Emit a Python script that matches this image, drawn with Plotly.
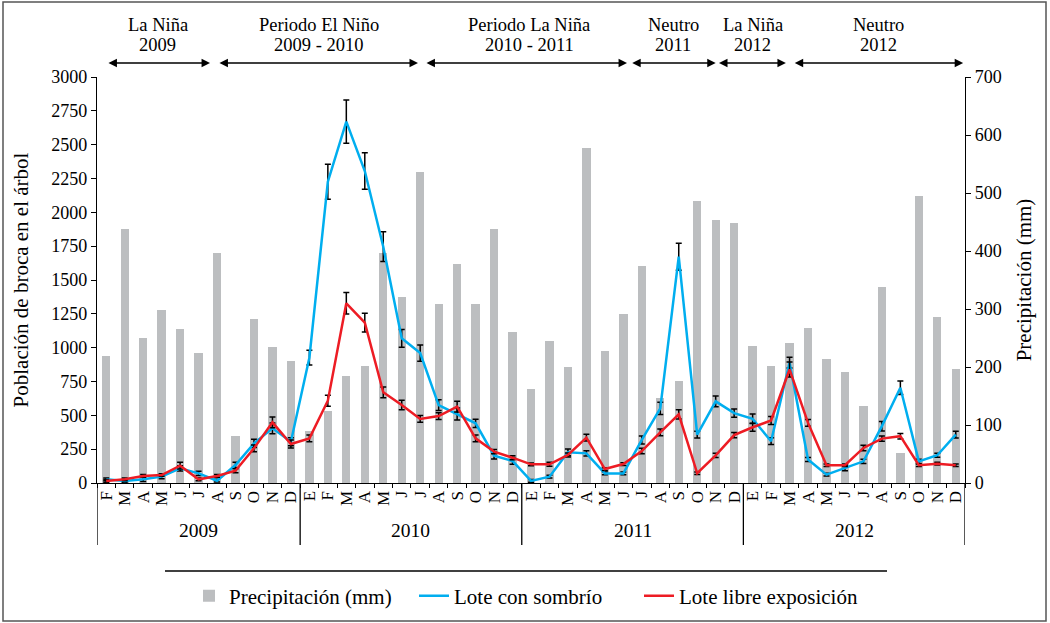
import plotly.graph_objects as go

# Month initials, Feb 2009 - Dec 2012
months = (["F", "M", "A", "M", "J", "J", "A", "S", "O", "N", "D"]
          + ["E", "F", "M", "A", "M", "J", "J", "A", "S", "O", "N", "D"] * 3)
years = ["2009", "2010", "2011", "2012"]
year_len = [11, 12, 12, 12]

# Monthly rainfall (mm)
precip = [219, 438, 250, 298, 266, 224, 397, 81, 283, 234, 210,
          90, 124, 184, 202, 397, 321, 536, 309, 378, 309, 438, 260,
          162, 245, 200, 578, 228, 291, 374, 147, 176, 487, 454, 449,
          236, 201, 241, 268, 213, 192, 132, 338, 52, 495, 287, 196]

# Berry borer population per tree - shaded lot
shade = [27, 15, 27, 47, 108, 71, 17, 133, 293, 404, 305,
         926, 2226, 2670, 2305, 1746, 1069, 960, 576, 510, 441, 202, 163,
         15, 47, 227, 219, 71, 71, 318, 552, 1672, 357, 603, 516,
         474, 309, 889, 173, 62, 111, 160, 420, 704, 160, 205, 358]
shade_err = [10, 10, 15, 15, 20, 15, 10, 20, 30, 40, 30,
             55, 130, 160, 135, 110, 65, 60, 40, 45, 30, 25, 25,
             10, 10, 25, 20, 10, 10, 30, 45, 100, 25, 40, 30,
             35, 25, 40, 15, 10, 20, 15, 35, 50, 15, 15, 25]

# Berry borer population per tree - full-sun lot
sun = [15, 27, 52, 59, 128, 27, 52, 91, 256, 448, 288,
       330, 608, 1328, 1185, 670, 576, 473, 495, 564, 330, 232, 187,
       138, 138, 207, 335, 103, 140, 236, 374, 507, 72, 204, 354,
       412, 462, 839, 444, 131, 131, 259, 328, 346, 131, 143, 131]
sun_err = [10, 10, 10, 10, 25, 10, 10, 15, 25, 40, 30,
           25, 40, 80, 70, 40, 35, 25, 25, 40, 25, 15, 15,
           10, 15, 15, 25, 10, 10, 20, 25, 35, 10, 15, 20,
           30, 30, 55, 25, 10, 10, 20, 20, 20, 10, 10, 10]

# ENSO periods: (label line 1, label line 2, arrow start, arrow end, text centre)
periods = [("La Niña", "2009", 0.04, 5.62, 2.8),
           ("Periodo El Niño", "2009 - 2010", 6.05, 16.88, 11.5),
           ("Periodo La Niña", "2010 - 2011", 17.26, 28.2, 22.9),
           ("Neutro", "2011", 28.4, 33.0, 30.7),
           ("La Niña", "2012", 33.1, 36.8, 35.0),
           ("Neutro", "2012", 37.2, 46.4, 41.8)]

idx = list(range(len(months)))
FONT = "Liberation Serif, Times New Roman, DejaVu Serif, serif"
GRAY = "#BCBEC0"
BLUE = "#00AEEF"
RED = "#ED1C24"

# plot area: 868 px wide, 406 px tall, top-left corner at (97, 77)
def py(px):
    return (483 - px) / 406

def pxx(px):
    return (px - 97) / 868

fig = go.Figure()
fig.add_trace(go.Bar(x=idx, y=precip, name="Precipitación (mm)", yaxis="y",
                     marker=dict(color=GRAY, line=dict(width=0)), width=0.45))
fig.add_trace(go.Scatter(x=idx, y=shade, name="Lote con sombrío", yaxis="y2",
                         mode="lines", line=dict(color=BLUE, width=2.5),
                         error_y=dict(type="data", array=shade_err, color="black",
                                      thickness=1.5, width=3)))
fig.add_trace(go.Scatter(x=idx, y=sun, name="Lote libre exposición", yaxis="y2",
                         mode="lines", line=dict(color=RED, width=2.5),
                         error_y=dict(type="data", array=sun_err, color="black",
                                      thickness=1.5, width=3)))

annotations = []
shapes = []
txt = dict(family=FONT, color="black")

# ENSO period labels and double-headed arrows
for l1, l2, x0, x1, xc in periods:
    for line, ypx in ((l1, 25), (l2, 45)):
        annotations.append(dict(x=xc, y=py(ypx), xref="x", yref="paper", text=line,
                                showarrow=False, font=dict(size=18.5, **txt),
                                xanchor="center", yanchor="middle"))
    annotations.append(dict(x=x1, y=py(63), xref="x", yref="paper", ax=x0, ay=0,
                            axref="x", ayref="pixel", text="", showarrow=True,
                            arrowside="end+start", arrowhead=2, startarrowhead=2,
                            arrowsize=1.3, startarrowsize=1.3, arrowwidth=1.3,
                            arrowcolor="black"))

# Year labels and dividers below the month axis
start = -0.5
for yr, n in zip(years, year_len):
    annotations.append(dict(x=start + n / 2, y=py(530), xref="x", yref="paper",
                            text=yr, showarrow=False, xanchor="center",
                            yanchor="middle", font=dict(size=19.5, **txt)))
    shapes.append(dict(type="line", xref="x", yref="paper", x0=start, x1=start,
                       y0=0, y1=py(545), line=dict(color="black", width=1.3)))
    start += n
shapes.append(dict(type="line", xref="x", yref="paper", x0=start, x1=start,
                   y0=0, y1=py(545), line=dict(color="black", width=1.3)))

# Rule above the legend
shapes.append(dict(type="line", xref="paper", yref="paper", x0=pxx(165), x1=pxx(887),
                   y0=py(571), y1=py(571), line=dict(color="black", width=1.3)))

# Outer frame
shapes.append(dict(type="rect", xref="paper", yref="paper",
                   x0=pxx(3), x1=pxx(1046), y0=py(621), y1=py(2),
                   line=dict(color="#555555", width=1.5)))

fig.update_layout(
    width=1050, height=623,
    margin=dict(l=97, r=85, t=77, b=140, autoexpand=False),
    paper_bgcolor="white", plot_bgcolor="white",
    font=dict(family=FONT, size=18, color="black"),
    bargap=0,
    xaxis=dict(range=[-0.5, 46.5], tickmode="array", tickvals=idx, ticktext=months,
               tickangle=-90, ticks="", showline=True, linecolor="black", linewidth=1.3,
               showgrid=False, zeroline=False, tickfont=dict(size=17), automargin=False,
               minor=dict(tickvals=[i - 0.5 for i in range(48)], ticks="outside",
                          ticklen=4, tickcolor="black", tickwidth=1, showgrid=False)),
    yaxis=dict(range=[0, 700], dtick=100, side="right", showline=True,
               linecolor="black", linewidth=1.3, ticks="outside", ticklen=5,
               tickcolor="black", showgrid=False, zeroline=False, automargin=False,
               title=dict(text="Precipitación (mm)", font=dict(size=21), standoff=15)),
    yaxis2=dict(range=[0, 3000], dtick=250, side="left", overlaying="y",
                showline=True, linecolor="black", linewidth=1.3, ticks="outside",
                ticklen=5, tickcolor="black", showgrid=False, zeroline=False,
                automargin=False,
                title=dict(text="Población de broca en el árbol", font=dict(size=21),
                           standoff=16)),
    legend=dict(orientation="h", x=pxx(189), xanchor="left", y=py(596),
                yanchor="middle", font=dict(size=21), itemwidth=30,
                entrywidth=180, entrywidthmode="pixels",
                bgcolor="rgba(0,0,0,0)"),
    annotations=annotations,
    shapes=shapes,
)

fig.write_html("out.html")
